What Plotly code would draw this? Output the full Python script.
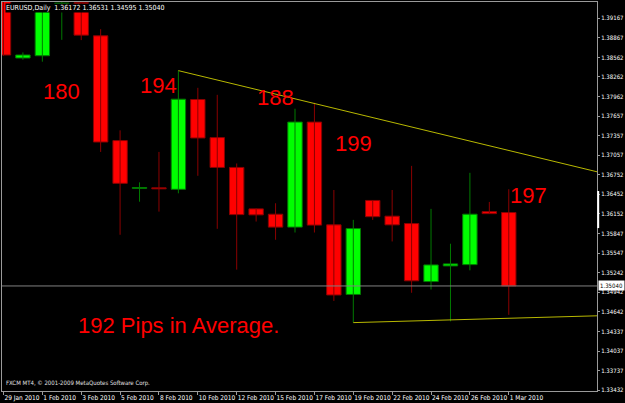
import plotly.graph_objects as go

# ---------------- data ----------------
dates = ["29 Jan 2010", "31 Jan 2010", "1 Feb 2010", "2 Feb 2010", "3 Feb 2010",
         "4 Feb 2010", "5 Feb 2010", "7 Feb 2010", "8 Feb 2010", "9 Feb 2010",
         "10 Feb 2010", "11 Feb 2010", "12 Feb 2010", "14 Feb 2010", "15 Feb 2010",
         "16 Feb 2010", "17 Feb 2010", "18 Feb 2010", "19 Feb 2010", "21 Feb 2010",
         "22 Feb 2010", "23 Feb 2010", "24 Feb 2010", "25 Feb 2010", "26 Feb 2010",
         "28 Feb 2010", "1 Mar 2010"]

opens = [1.39500, 1.38554, 1.38589, 1.39274, 1.39406, 1.38896, 1.37281, 1.36545, 1.36553,
         1.36530, 1.37914, 1.37327, 1.36867, 1.36228, 1.36146, 1.35947, 1.37566, 1.35982,
         1.34909, 1.36358, 1.36116, 1.36002, 1.35108, 1.35349, 1.35369, 1.36186, 1.36172]
highs = [1.39600, 1.38640, 1.39287, 1.39430, 1.39420, 1.38998, 1.37439, 1.36637, 1.37106,
         1.38359, 1.38094, 1.37986, 1.36928, 1.36235, 1.36315, 1.37772, 1.37864, 1.36519,
         1.36059, 1.36365, 1.36519, 1.36891, 1.36228, 1.35691, 1.36784, 1.36335, 1.36531]
lows = [1.38590, 1.38528, 1.38497, 1.38834, 1.38830, 1.37106, 1.35829, 1.36339, 1.36186,
        1.36468, 1.36738, 1.35921, 1.35292, 1.36033, 1.35752, 1.35864, 1.35864, 1.34809,
        1.34475, 1.36059, 1.35726, 1.34935, 1.34985, 1.34495, 1.35281, 1.36150, 1.34595]
closes = [1.38600, 1.38600, 1.39279, 1.39400, 1.38906, 1.37259, 1.36622, 1.36557, 1.36537,
          1.37919, 1.37321, 1.36867, 1.36140, 1.36136, 1.35947, 1.37566, 1.35978, 1.34901,
          1.35925, 1.36108, 1.35982, 1.35119, 1.35364, 1.35380, 1.36146, 1.36155, 1.35040]

price_ticks = ["1.39167", "1.38867", "1.38562", "1.38262", "1.37962", "1.37657", "1.37357",
               "1.37057", "1.36752", "1.36452", "1.36152", "1.35847", "1.35547", "1.35242",
               "1.34942", "1.34642", "1.34337", "1.34037", "1.33737", "1.33432"]

# trend lines: (bar index, price) anchors
upper_trend_x = [9, 30.54]
upper_trend_y = [1.38359, 1.36800]
lower_trend_x = [18, 30.54]
lower_trend_y = [1.34475, 1.34580]

# range marker drawn on the price scale
scale_marker = [1.36504, 1.35932]

# text notes
note_texts = ["180", "194", "188", "199", "197", "192 Pips in Average."]
note_x = [3, 8, 14, 18, 27, 9]
note_y = [1.38032, 1.38124, 1.37949, 1.37235, 1.36427, 1.34423]

symbol = "EURUSD,Daily"
copyright_text = "FXCM MT4, © 2001-2009 MetaQuotes Software Corp."

# ---------------- styling ----------------
BG = "#000000"
FRAME = "#9a9a9a"
BULL_FILL, BULL_LINE = "#00ff00", "#007a00"
BEAR_FILL, BEAR_LINE = "#ff0000", "#8a0000"
TREND = "#b8b800"
SMALL_FONT = "Liberation Sans Narrow, DejaVu Sans Condensed, Liberation Sans, Arial, sans-serif"
SMALL = 6

idx = list(range(len(dates)))
bull = [i for i in idx if closes[i] >= opens[i]]
bear = [i for i in idx if closes[i] < opens[i]]

fig = go.Figure()


def wick_trace(ids, color):
    xs, ys = [], []
    for i in ids:
        xs += [i, i, None]
        ys += [lows[i], highs[i], None]
    return go.Scatter(x=xs, y=ys, mode="lines", line=dict(color=color, width=1),
                      hoverinfo="skip", showlegend=False)


def body_trace(ids, fill, line):
    return go.Bar(x=ids,
                  y=[max(abs(closes[i] - opens[i]), 0.00004) for i in ids],
                  base=[min(opens[i], closes[i]) for i in ids],
                  width=0.74,
                  marker=dict(color=fill, line=dict(color=line, width=1)),
                  hoverinfo="skip", showlegend=False)


fig.add_trace(wick_trace(bull, BULL_LINE))
fig.add_trace(wick_trace(bear, BEAR_LINE))
fig.add_trace(body_trace(bull, BULL_FILL, BULL_LINE))
fig.add_trace(body_trace(bear, BEAR_FILL, BEAR_LINE))

fig.add_trace(go.Scatter(x=upper_trend_x, y=upper_trend_y, mode="lines",
                         line=dict(color=TREND, width=1), hoverinfo="skip", showlegend=False))
fig.add_trace(go.Scatter(x=lower_trend_x, y=lower_trend_y, mode="lines",
                         line=dict(color=TREND, width=1), hoverinfo="skip", showlegend=False))

# current price line
fig.add_shape(type="line", xref="paper", x0=0, x1=1, yref="y",
              y0=closes[-1], y1=closes[-1], line=dict(color="#808080", width=1))
# marker on price scale
fig.add_shape(type="line", xref="paper", x0=1.002, x1=1.002, yref="y",
              y0=scale_marker[0], y1=scale_marker[1], line=dict(color="#ffffff", width=2))

annotations = []
for t, x, y in zip(note_texts, note_x, note_y):
    annotations.append(dict(x=x, y=y, xref="x", yref="y", text=t, showarrow=False,
                            font=dict(family="Liberation Sans, Arial, sans-serif",
                                      size=22, color="#ff0000"),
                            xanchor="center", yanchor="middle"))

title_text = "%s  %.5f %.5f %.5f %.5f" % (symbol, opens[-1], highs[-1], lows[-1], closes[-1])
annotations.append(dict(x=0, y=1, xref="paper", yref="paper", text=title_text,
                        showarrow=False, xanchor="left", yanchor="top", xshift=3, yshift=-1,
                        bgcolor=BG, borderpad=0,
                        font=dict(family=SMALL_FONT, size=7, color="#ffffff")))
annotations.append(dict(x=0, y=0, xref="paper", yref="paper", text=copyright_text,
                        showarrow=False, xanchor="left", yanchor="bottom", xshift=2, yshift=2,
                        font=dict(family=SMALL_FONT, size=SMALL, color="#e0e0e0")))
annotations.append(dict(x=1, y=closes[-1], xref="paper", yref="y", text="%.5f" % closes[-1],
                        showarrow=False, xanchor="left", yanchor="middle", xshift=1,
                        bgcolor="#ffffff", borderpad=1,
                        font=dict(family=SMALL_FONT, size=SMALL, color="#000000")))

fig.update_layout(
    width=625, height=403,
    margin=dict(l=1, r=23, t=1, b=11, pad=0),
    paper_bgcolor=BG, plot_bgcolor=BG,
    barmode="overlay",
    showlegend=False,
    annotations=annotations,
    font=dict(family=SMALL_FONT, size=SMALL, color="#ffffff"),
)

fig.update_xaxes(
    range=[-0.0764, 30.54],
    tickmode="array",
    tickvals=idx[::2],
    ticktext=dates[::2],
    tickangle=0,
    ticks="outside", ticklen=3, tickcolor=FRAME,
    ticklabelposition="outside right",
    tickfont=dict(family=SMALL_FONT, size=6.5, color="#ffffff"),
    showgrid=False, zeroline=False,
    showline=True, linecolor=FRAME, linewidth=1, mirror=True,
    fixedrange=True,
)
fig.update_yaxes(
    range=[1.33421, 1.39417],
    side="right",
    tickmode="array",
    tickvals=[float(v) for v in price_ticks],
    ticktext=price_ticks,
    ticks="outside", ticklen=2, tickcolor=FRAME,
    tickfont=dict(family=SMALL_FONT, size=SMALL, color="#ffffff"),
    showgrid=False, zeroline=False,
    showline=True, linecolor=FRAME, linewidth=1, mirror=True,
    fixedrange=True,
)

fig.write_html("out.html")
